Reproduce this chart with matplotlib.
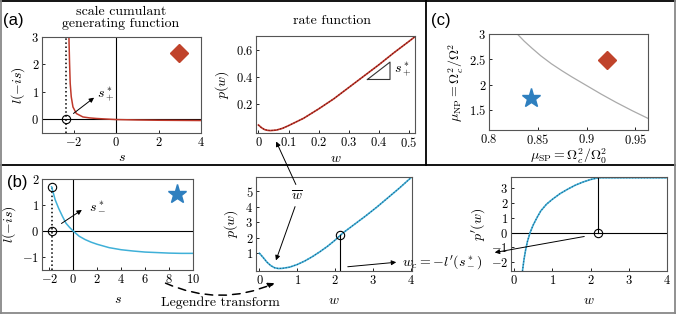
import matplotlib.pyplot as plt
from matplotlib.lines import Line2D
from matplotlib.patches import FancyArrowPatch
from matplotlib.ticker import FuncFormatter

plt.rcParams['font.family'] = 'cmr10'
plt.rcParams['mathtext.fontset'] = 'cm'
plt.rcParams['axes.formatter.use_mathtext'] = True
plt.rcParams['font.size'] = 9

# (a) scale cumulant generating function, red case
sa = [-2.23, -2.2, -2.17, -2.12, -2.04, -1.88, -1.57, -1.25, -0.94, -0.5, 0.0, 1.0, 2.0, 3.0, 4.0]
la = [3.0, 2.05, 1.31, 0.82, 0.45, 0.21, 0.085, 0.05, 0.03, 0.01, -0.01, -0.025, -0.035, -0.04, -0.045]
sa_star = -2.39

# (a) rate function
wa = [0.0, 0.01, 0.02, 0.03, 0.04, 0.06, 0.08, 0.1, 0.15, 0.2, 0.25, 0.3, 0.35, 0.4, 0.45, 0.5, 0.52]
pa = [0.04, 0.02, 0.006, 0.0, -0.002, 0.002, 0.015, 0.035, 0.09, 0.16, 0.235, 0.32, 0.405, 0.49, 0.58, 0.665, 0.7]

# (c) phase diagram
mu_sp = [0.829, 0.836, 0.844, 0.853, 0.864, 0.875, 0.885, 0.9, 0.915, 0.93, 0.947, 0.963]
mu_np = [3.0, 2.86, 2.72, 2.57, 2.41, 2.27, 2.15, 1.98, 1.81, 1.65, 1.48, 1.33]
diamond = (0.921, 2.48)
star = (0.843, 1.73)

# (b) scale cumulant generating function, blue case
sb = [-1.8, -1.5, -1.2, -0.9, -0.6, -0.3, 0, 0.5, 1, 1.5, 2, 3, 4, 5, 6, 7, 8, 9, 10]
lb = [1.70, 1.20, 0.86, 0.57, 0.30, 0.14, 0.0, -0.2, -0.33, -0.43, -0.51, -0.64, -0.72, -0.77, -0.81, -0.83, -0.85, -0.86, -0.86]
sb_star = -1.8

# (b) rate function
wb = [0, 0.1, 0.2, 0.3, 0.4, 0.5, 0.6, 0.8, 1.0, 1.2, 1.4, 1.6, 1.8, 2.0, 2.2, 2.5, 2.8, 3.1, 3.4, 3.7, 4.0]
pb = [1.0, 0.72, 0.42, 0.2, 0.06, 0.01, 0.02, 0.1, 0.27, 0.5, 0.78, 1.1, 1.45, 1.85, 2.3, 2.85, 3.4, 3.98, 4.6, 5.22, 5.88]
wc, pc = 2.13, 2.16

# (b) derivative of rate function
wd = [0.22, 0.26, 0.3, 0.35, 0.42, 0.5, 0.6, 0.7, 0.85, 1.0, 1.2, 1.4, 1.6, 1.8, 2.0, 2.2, 4.0]
dd = [-2.58, -1.8, -1.2, -0.6, 0.0, 0.5, 1.0, 1.45, 1.9, 2.22, 2.6, 2.9, 3.17, 3.38, 3.55, 3.67, 3.67]
wd_c = 2.2

RED, RED_D = '#c0392b', '#6e1010'
BLUE, BLUE_D = '#3fb0d8', '#1f5f86'
W, H = 676, 314


def px(x, y):
    return (x / W, 1 - y / H)


def add_ax(x0, y0, x1, y1):
    ax = fig.add_axes([x0 / W, 1 - y1 / H, (x1 - x0) / W, (y1 - y0) / H])
    for sp in ax.spines.values():
        sp.set_color('#555555')
        sp.set_linewidth(0.8)
    ax.tick_params(direction='in', length=2.5, width=0.6, labelsize=9, pad=2)
    fmt = FuncFormatter(lambda v, _: f'${v:g}$')
    ax.xaxis.set_major_formatter(fmt)
    ax.yaxis.set_major_formatter(fmt)
    return ax


def arrow(p0, p1, ls='-', lw=0.7, rad=0.0, ms=7):
    fig.add_artist(FancyArrowPatch(px(*p0), px(*p1), transform=fig.transFigure,
                                   arrowstyle='-|>', mutation_scale=ms, lw=lw,
                                   linestyle=ls, color='k',
                                   connectionstyle=f'arc3,rad={rad}'))


fig = plt.figure(figsize=(6.76, 3.14), dpi=100)

# ---- (a) left
ax = add_ax(42, 37, 201, 133)
ax.axhline(0, color='k', lw=0.8)
ax.axvline(0, color='k', lw=0.8)
ax.plot([sa_star, sa_star], [-0.5, 3], ls=':', color='k', lw=1.1)
ax.plot(sa, la, color=RED, lw=1.1)
ax.plot(sa_star, 0, 'o', mfc='none', mec='k', ms=6, mew=0.8)
ax.plot(2.95, 2.42, 'D', color='#c0432b', ms=9)
ax.annotate('', xy=(-0.94, 0.85), xytext=(-2.12, 0.15),
            arrowprops=dict(arrowstyle='-|>', lw=0.7, color='k', mutation_scale=7))
ax.text(-0.5, 0.9, r'$s_+^*$', fontsize=10, ha='center', va='center')
ax.set_xlim(-3.5, 4)
ax.set_ylim(-0.5, 3)
ax.set_xticks([-2, 0, 2, 4])
ax.set_yticks([0, 1, 2, 3])
ax.set_xlabel(r'$s$', fontsize=10, labelpad=2)
ax.set_ylabel(r'$l(-is)$', fontsize=10, labelpad=3)

# ---- (a) right
ax = add_ax(256, 36, 415, 133)
ax.plot(wa, pa, color=RED, lw=1.2)
ax.plot(wa, pa, color=RED_D, lw=0.8, ls=':')
ax.plot([0.362, 0.437, 0.437, 0.362], [0.38, 0.38, 0.51, 0.38], color='#333333', lw=0.8)
ax.text(0.48, 0.45, r'$s_+^*$', fontsize=10, ha='center', va='center')
ax.set_xlim(-0.008, 0.52)
ax.set_ylim(-0.02, 0.705)
ax.set_xticks([0, 0.1, 0.2, 0.3, 0.4, 0.5])
ax.set_yticks([0.2, 0.4, 0.6])
ax.set_xlabel(r'$w$', fontsize=10, labelpad=2)
ax.set_ylabel(r'$p(w)$', fontsize=10, labelpad=3)

# ---- (c)
ax = add_ax(489, 34, 648, 130)
ax.plot(mu_sp, mu_np, color='#aaaaaa', lw=0.9)
ax.plot(*diamond, 'D', color='#c0432b', ms=9)
ax.plot(*star, '*', color='#2e7fbf', ms=14)
ax.set_xlim(0.8, 0.963)
ax.set_ylim(1.1, 3)
ax.set_xticks([0.8, 0.85, 0.9, 0.95])
ax.set_yticks([1.5, 2, 2.5, 3])
ax.set_xlabel(r'$\mu_{\rm SP} = \Omega_c^2/\Omega_0^2$', fontsize=10, labelpad=0)
ax.set_ylabel(r'$\mu_{\rm NP} = \Omega_c^2/\Omega^2$', fontsize=10, labelpad=2)

# ---- (b) left
ax = add_ax(42, 179, 193, 270)
ax.axhline(0, color='k', lw=0.8)
ax.axvline(0, color='k', lw=0.8)
ax.plot([sb_star, sb_star], [-1.5, lb[0]], ls=':', color='k', lw=1.1)
ax.plot(sb, lb, color=BLUE, lw=1.1)
ax.plot([sb_star, sb_star], [lb[0], 0], 'o', mfc='none', mec='k', ms=6, mew=0.8)
ax.plot(8.7, 1.42, '*', color='#2e7fbf', ms=14)
ax.annotate('', xy=(0.92, 0.87), xytext=(-1.17, 0.23),
            arrowprops=dict(arrowstyle='-|>', lw=0.7, color='k', mutation_scale=7))
ax.text(2.0, 0.95, r'$s_-^*$', fontsize=10, ha='center', va='center')
ax.set_xlim(-2.6, 10)
ax.set_ylim(-1.5, 2)
ax.set_xticks([-2, 0, 2, 4, 6, 8, 10])
ax.set_yticks([-1, 0, 1, 2])
ax.set_xlabel(r'$s$', fontsize=10, labelpad=6)
ax.set_ylabel(r'$l(-is)$', fontsize=10, labelpad=3)

# ---- (b) middle
ax = add_ax(256, 177, 412, 271)
ax.plot(wb, pb, color=BLUE, lw=1.2)
ax.plot(wb, pb, color=BLUE_D, lw=0.8, ls=':')
ax.plot([wc, wc], [-0.15, pc], color='k', lw=0.8)
ax.plot(wc, pc, 'o', mfc='none', mec='k', ms=6, mew=0.8)
ax.set_xlim(-0.09, 4.03)
ax.set_ylim(-0.15, 5.93)
ax.set_xticks([0, 1, 2, 3, 4])
ax.set_yticks([1, 2, 3, 4, 5])
ax.set_xlabel(r'$w$', fontsize=10, labelpad=6)
ax.set_ylabel(r'$p(w)$', fontsize=10, labelpad=4)

# ---- (b) right
ax = add_ax(511, 177, 667, 271)
ax.axhline(0, color='k', lw=0.8)
ax.plot(wd, dd, color=BLUE, lw=1.2)
ax.plot(wd, dd, color=BLUE_D, lw=0.8, ls=':')
ax.plot([wd_c, wd_c], [0, dd[-1]], color='k', lw=0.8)
ax.plot(wd_c, 0, 'o', mfc='none', mec='k', ms=6, mew=0.8)
ax.set_xlim(-0.08, 4.0)
ax.set_ylim(-2.58, 3.72)
ax.set_xticks([0, 1, 2, 3, 4])
ax.set_yticks([-2, -1, 0, 1, 2, 3])
ax.set_xlabel(r'$w$', fontsize=10, labelpad=6)
ax.set_ylabel(r"$p'(w)$", fontsize=10, labelpad=3)

# ---- figure-level text and arrows
fig.text(*px(121, 18), 'scale cumulant\ngenerating function', ha='center', va='center',
         fontsize=10, linespacing=1.0)
fig.text(*px(332, 21), 'rate function', ha='center', va='center', fontsize=10)
fig.text(*px(13, 20), '(a)', family='Liberation Sans', fontsize=12, ha='center', va='center')
fig.text(*px(17, 182), '(b)', family='Liberation Sans', fontsize=12, ha='center', va='center')
fig.text(*px(441, 20), '(c)', family='Liberation Sans', fontsize=12, ha='center', va='center')
fig.text(*px(220, 303), 'Legendre transform', ha='center', va='center', fontsize=10)
fig.text(*px(297, 196), r'$\overline{w}$', ha='center', va='center', fontsize=10)
fig.text(*px(442, 262), r"$w_c = -l'(s_-^*)$", ha='center', va='center', fontsize=10)

arrow((297, 187), (275, 139))
arrow((296, 204), (275, 263))
arrow((345, 267), (399, 262))
arrow((587, 236), (492, 253))
arrow((163, 282), (277, 282), ls=(0, (5, 4)), lw=1.1, rad=0.23, ms=9)

# panel frames
for xs, ys, c in [([0, W], [1, 1], 'k'), ([0, W], [165, 165], 'k'),
                  ([426, 426], [0, 165], 'k'), ([1, 1], [0, H], '#888888'),
                  ([W - 1, W - 1], [0, H], '#888888'), ([0, W], [H - 1, H - 1], '#888888')]:
    fig.add_artist(Line2D([x / W for x in xs], [1 - y / H for y in ys], color=c, lw=1.3,
                          transform=fig.transFigure))

fig.savefig('out.png', dpi=100)
